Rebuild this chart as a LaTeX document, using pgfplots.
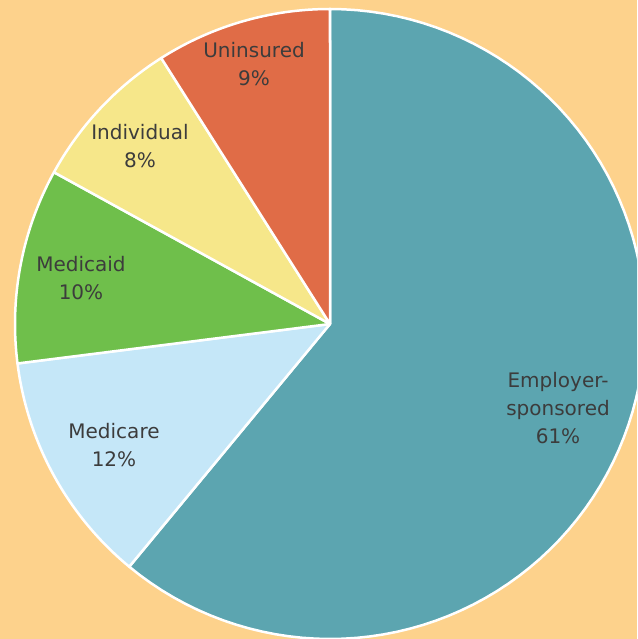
\documentclass[border=0pt]{standalone}
\usepackage{pgfplots}
\pgfplotsset{compat=1.18}
\usepackage{fontspec}
\setmainfont{DejaVu Sans}

\definecolor{bg}{HTML}{FDD28C}
\definecolor{employer}{HTML}{5CA5B0}
\definecolor{medicare}{HTML}{C5E7F8}
\definecolor{medicaid}{HTML}{6FBF4B}
\definecolor{individual}{HTML}{F6E78A}
\definecolor{uninsured}{HTML}{E06C47}
\definecolor{txt}{HTML}{3C3C3C}

\tikzset{lbl/.style={font=\fontsize{20}{28}\selectfont, text=txt, align=center}}

% slice shares in percent, clockwise from 12 o'clock:
% Employer-sponsored 61, Medicare 12, Medicaid 10, Individual 8, Uninsured 9
\newcommand{\slice}[3]{% start %, end %, colour
  \addplot[fill=#3, draw=white, line width=2.5pt, line join=round,
    domain={90-3.6*#1}:{90-3.6*#2}, samples=90]
    ({315*cos(x)}, {315*sin(x)}) -- (axis cs:0,0) -- cycle;
}

\begin{document}
\begin{tikzpicture}
\begin{axis}[
    scale only axis,
    width=637pt, height=639pt,
    xmin=-330, xmax=307,
    ymin=-315, ymax=324,
    axis line style={draw=none},
    ticks=none,
    axis background/.style={fill=bg},
  ]
  \slice{0}{61}{employer}
  \slice{61}{73}{medicare}
  \slice{73}{83}{medicaid}
  \slice{83}{91}{individual}
  \slice{91}{100}{uninsured}

  \node[lbl] at (axis cs:228,-84) {Employer-\\sponsored\\61\%};
  \node[lbl] at (axis cs:-216,-121) {Medicare\\12\%};
  \node[lbl] at (axis cs:-249,46) {Medicaid\\10\%};
  \node[lbl] at (axis cs:-190,178) {Individual\\8\%};
  \node[lbl] at (axis cs:-76,260) {Uninsured\\9\%};
\end{axis}
\end{tikzpicture}
\end{document}
